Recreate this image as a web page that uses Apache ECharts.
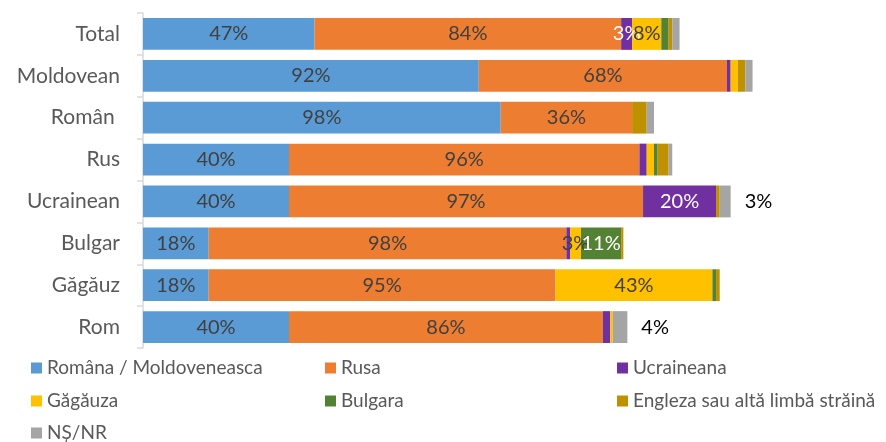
<!DOCTYPE html>
<html>
<head>
<meta charset="utf-8">
<script src="https://cdn.jsdelivr.net/npm/echarts@6/dist/echarts.min.js"></script>
<style>
  html, body { margin: 0; padding: 0; background: #fff; }
  #chart { width: 886px; height: 442px; }
</style>
</head>
<body>
<div id="chart"></div>
<script>
// Limba vorbită, pe grupuri etnice (răspunsuri multiple, %)
const categories = ['Total', 'Moldovean', 'Român ', 'Rus', 'Ucrainean', 'Bulgar', 'Găgăuz', 'Rom'];

const romana     = [47, 92, 98, 40, 40, 18, 18, 40];
const rusa       = [84, 68, 36, 96, 97, 98, 95, 86];
const ucraineana = [3, 1, 0, 2, 20, 1, 0, 2];
const gagauza    = [8, 2, 0, 2, 0, 3, 43, 0.7];
const bulgara    = [2, 0, 0, 1, 0, 11, 1, 0];
const engleza    = [1, 2, 4, 3, 1, 0.6, 1, 0];
const nsnr       = [2, 2, 2, 1, 3, 0, 0, 4];

// Which bar segments carry a value label (category indices)
const labelled = {
  romana: [0, 1, 2, 3, 4, 5, 6, 7],
  rusa: [0, 1, 2, 3, 4, 5, 6, 7],
  ucraineana: [0, 4],
  gagauza: [0, 5, 6],
  bulgara: [5],
  engleza: [],
  nsnr: [4, 7]
};

const FONT = 'Lato, "Open Sans", sans-serif';

function makeSeries(name, values, key, color, labelColor, outside) {
  const shown = labelled[key];
  return {
    name: name,
    type: 'bar',
    stack: 'total',
    barCategoryGap: '24%',
    itemStyle: { color: color },
    data: values.map((v, i) => ({
      value: v,
      label: {
        show: shown.indexOf(i) >= 0,
        position: outside ? 'right' : 'inside',
        distance: outside ? 14 : 5,
        color: outside ? '#000' : labelColor,
        fontFamily: FONT,
        fontSize: 20,
        formatter: p => p.value + '%'
      }
    }))
  };
}

const chart = echarts.init(document.getElementById('chart'), null, { renderer: 'canvas' });

// Legend laid out as a 3-column grid: one legend box per entry
const legendCols = [31, 325, 617];
const legendRows = [357, 390, 422];
const legendLayout = [
  ['Româna / Moldoveneasca', 0, 0],
  ['Rusa', 1, 0],
  ['Ucraineana', 2, 0],
  ['Găgăuza', 0, 1],
  ['Bulgara', 1, 1],
  ['Engleza sau altă limbă străină', 2, 1],
  ['NȘ/NR', 0, 2]
];
const legends = legendLayout.map(([name, c, r]) => ({
  data: [name],
  left: legendCols[c],
  top: legendRows[r],
  itemWidth: 11,
  itemHeight: 11,
  icon: 'rect',
  textStyle: { color: '#595959', fontFamily: FONT, fontSize: 19, lineHeight: 22 },
  padding: 0,
  selectedMode: false
}));

chart.setOption({
  animation: false,
  grid: { left: 143, top: 13, height: 335, width: 730 },
  xAxis: { type: 'value', min: 0, max: 200, show: false },
  yAxis: {
    type: 'category',
    data: categories,
    inverse: true,
    axisLine: { show: true, lineStyle: { color: '#d9d9d9', width: 1.5 } },
    axisTick: { show: true, length: 6, lineStyle: { color: '#d9d9d9', width: 1.5 } },
    axisLabel: { margin: 23, color: '#595959', fontFamily: FONT, fontSize: 21 }
  },
  legend: legends,
  series: [
    makeSeries('Româna / Moldoveneasca', romana, 'romana', '#5B9BD5', '#404040'),
    makeSeries('Rusa', rusa, 'rusa', '#ED7D31', '#404040'),
    makeSeries('Ucraineana', ucraineana, 'ucraineana', '#7030A0', '#ffffff'),
    makeSeries('Găgăuza', gagauza, 'gagauza', '#FFC000', '#404040'),
    makeSeries('Bulgara', bulgara, 'bulgara', '#548235', '#ffffff'),
    makeSeries('Engleza sau altă limbă străină', engleza, 'engleza', '#BF9000', '#404040'),
    makeSeries('NȘ/NR', nsnr, 'nsnr', '#A5A5A5', '#404040', true)
  ]
});
</script>
</body>
</html>
